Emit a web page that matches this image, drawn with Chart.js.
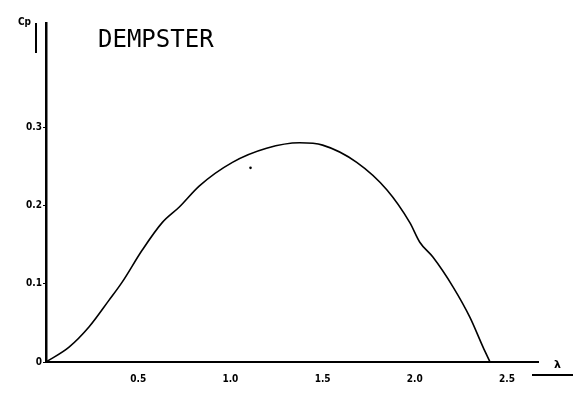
<!DOCTYPE html>
<html>
<head>
<meta charset="utf-8">
<script src="https://cdn.jsdelivr.net/npm/chart.js@4/dist/chart.umd.min.js"></script>
<style>
  html, body { margin: 0; padding: 0; background: #fff; }
  #wrap { position: relative; width: 585px; height: 398px; }
  #plot { position: absolute; left: 0; top: 0; }
  .lbl { position: absolute; color: #000; white-space: nowrap; }
  #title { left: 98px; top: 27px; font: 24px/24px "DejaVu Sans Mono", monospace; }
  #cp { left: 18px; top: 16px; font: bold 10px/12px "DejaVu Sans Condensed", "DejaVu Sans", sans-serif; }
  #lam { left: 554px; top: 359px; font: bold 11px/12px "DejaVu Sans", sans-serif; }
  .rule { position: absolute; background: #000; }
</style>
</head>
<body>
<div id="wrap">
  <canvas id="plot" width="585" height="398"></canvas>
  <div class="lbl" id="title">DEMPSTER</div>
  <div class="lbl" id="cp">Cp</div>
  <div class="rule" style="left:35px; top:23px; width:2px; height:30px;"></div>
  <div class="lbl" id="lam">λ</div>
  <div class="rule" style="left:532px; top:374px; width:41px; height:2px;"></div>
</div>
<script>
// Cp against tip speed ratio λ
const lambdaValues = [0, 0.125, 0.234, 0.342, 0.413, 0.522, 0.630, 0.723, 0.832, 1.011, 1.196, 1.375, 1.500, 1.685, 1.848, 1.973, 2.027, 2.098, 2.207, 2.299, 2.370, 2.408];
const cpValues     = [0, 0.019, 0.045, 0.079, 0.102, 0.143, 0.178, 0.198, 0.225, 0.255, 0.273, 0.280, 0.277, 0.255, 0.220, 0.178, 0.153, 0.134, 0.096, 0.057, 0.019, 0];

// isolated mark above the curve
const dotLambda = [1.109];
const dotCp = [0.248];

const xTicks = [0.5, 1.0, 1.5, 2.0, 2.5];
const yTicks = [0, 0.1, 0.2, 0.3];

const tickFont = { family: '"DejaVu Sans Condensed", "DejaVu Sans", sans-serif', size: 10, weight: 'bold' };

new Chart(document.getElementById('plot'), {
    type: 'scatter',
    data: {
        datasets: [{
            data: lambdaValues.map((x, i) => ({ x: x, y: cpValues[i] })),
            showLine: true,
            borderColor: '#000',
            borderWidth: 1.6,
            pointRadius: 0,
            cubicInterpolationMode: 'monotone',
            fill: false
        }, {
            data: dotLambda.map((x, i) => ({ x: x, y: dotCp[i] })),
            pointRadius: 1.3,
            pointBackgroundColor: '#000',
            pointBorderWidth: 0
        }]
    },
    options: {
        responsive: false,
        animation: false,
        layout: { padding: { top: 23, right: 47, left: 0, bottom: 0 } },
        plugins: { legend: { display: false }, tooltip: { enabled: false } },
        scales: {
            x: {
                type: 'linear',
                min: 0,
                max: 2.668,
                afterFit: s => { s.height = 36; },
                afterBuildTicks: s => { s.ticks = xTicks.map(v => ({ value: v })); },
                grid: { display: false, drawTicks: false },
                border: { display: true, color: '#000', width: 2 },
                ticks: { color: '#000', font: tickFont, padding: 11, maxRotation: 0, callback: v => v.toFixed(1) }
            },
            y: {
                type: 'linear',
                min: 0,
                max: 0.433,
                afterFit: s => { s.width = 46; },
                afterBuildTicks: s => { s.ticks = yTicks.map(v => ({ value: v })); },
                grid: { drawOnChartArea: false, drawTicks: true, tickLength: 3, color: '#000', lineWidth: 1 },
                border: { display: true, color: '#000', width: 2.5 },
                ticks: { color: '#000', font: tickFont, padding: 1, callback: v => v === 0 ? '0' : v.toFixed(1) }
            }
        }
    }
});
</script>
</body>
</html>
